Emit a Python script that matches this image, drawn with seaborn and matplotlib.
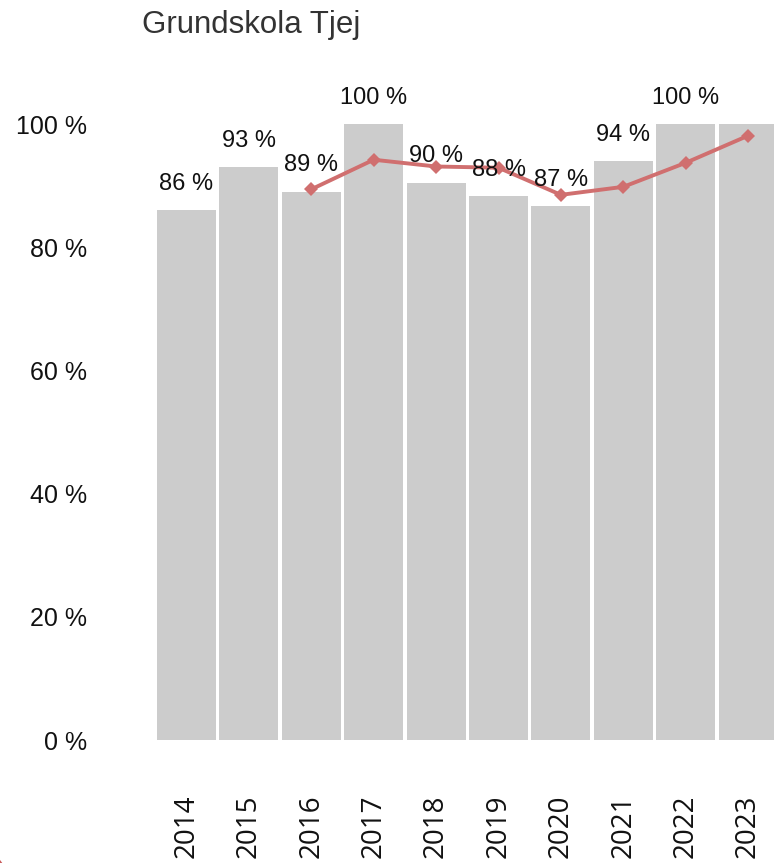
import matplotlib
matplotlib.use("Agg")
import matplotlib.pyplot as plt
import seaborn as sns
import pandas as pd
from matplotlib.patches import Circle

years = ["2014", "2015", "2016", "2017", "2018", "2019", "2020", "2021", "2022", "2023"]
bar_values = [86, 93, 89, 100, 90.5, 88.3, 86.7, 94, 100, 100]
bar_labels = ["86 %", "93 %", "89 %", "100 %", "90 %", "88 %", "87 %", "94 %", "100 %", ""]
line_years = ["2016", "2017", "2018", "2019", "2020", "2021", "2022", "2023"]
line_values = [89.4, 94.2, 93.1, 92.9, 88.5, 89.8, 93.7, 98.1]
yticks = [0, 20, 40, 60, 80, 100]

sns.set_theme(style="white")
plt.rcParams['font.family'] = ['Liberation Sans', 'DejaVu Sans']

W, H = 774, 863
fig = plt.figure(figsize=(W / 100, H / 100), dpi=100)
ax = fig.add_axes([155.3 / W, (H - 740) / H, 624 / W, 616 / H])

df = pd.DataFrame({"year": years, "value": bar_values})
sns.barplot(data=df, x="year", y="value", color="#CCCCCC", saturation=1,
            width=0.945, ax=ax, zorder=1)
for p in ax.patches:
    p.set_edgecolor("none")

xpos = [years.index(y) for y in line_years]
sns.lineplot(x=xpos, y=line_values, color="#D06F6F", linewidth=2.8,
             marker="D", markersize=7.5, markeredgewidth=0, ax=ax, zorder=3)

for i, (v, lab) in enumerate(zip(bar_values, bar_labels)):
    if lab:
        ax.annotate(lab, (i, v), xytext=(0, 11), textcoords="offset points",
                    ha="center", va="bottom", fontsize=17, color="#111111",
                    annotation_clip=False, zorder=4)

ax.set_xlim(-0.5, 9.5)
ax.set_ylim(0, 100)
ax.set_yticks(yticks)
ax.set_yticklabels([f"{t} %" for t in yticks], fontsize=18, color="#111111")
ax.tick_params(axis="y", length=0, pad=49)
ax.set_xticks(range(len(years)))
ax.set_xticklabels(years, rotation=90, fontsize=20, color="#111111",
                   family=["Open Sans", "DejaVu Sans"])
ax.tick_params(axis="x", length=0, pad=39)
ax.set_xlabel("")
ax.set_ylabel("")
for s in ax.spines.values():
    s.set_visible(False)
ax.grid(False)

fig.text(142 / W, 1 - 25 / H, "Grundskola Tjej", fontsize=22.5, color="#333333",
         ha="left", va="center")

circ = Circle((-48 / W, (H - 905) / H), 62 / W, transform=fig.transFigure,
              facecolor="#F6DADA", edgecolor="#C85A5A", linewidth=1.2, clip_on=False)
fig.patches.append(circ)

fig.savefig("out.png", dpi=100)
